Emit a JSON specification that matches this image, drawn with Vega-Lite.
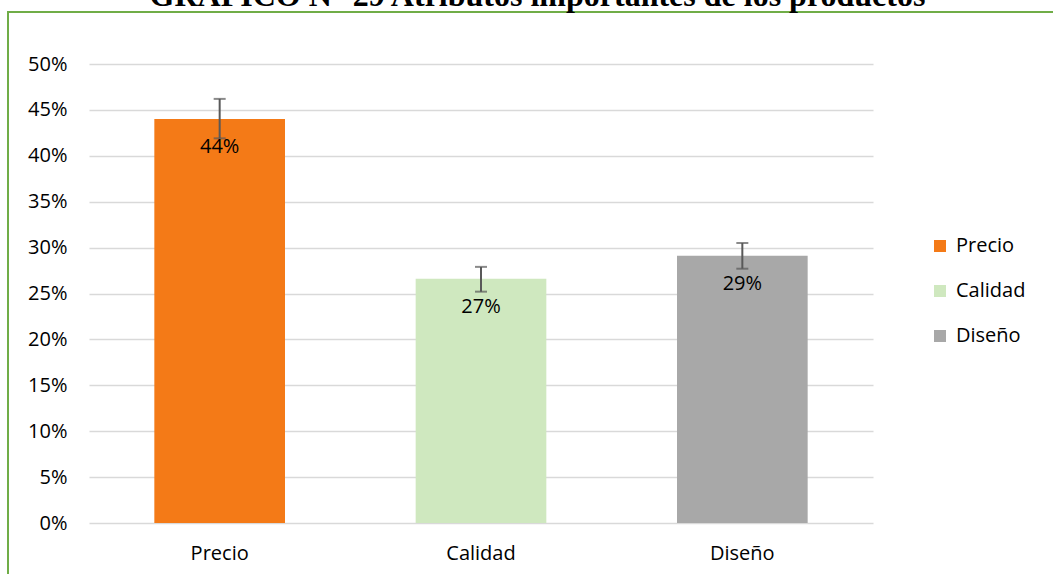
{
  "$schema": "https://vega.github.io/schema/vega-lite/v6.json",
  "autosize": {"type": "none"},
  "padding": {"left": 8, "top": 12, "right": 0, "bottom": 0},
  "width": 1050,
  "height": 570,
  "background": "white",
  "data": {
    "values": [
      {"cat": "Precio", "value": 0.44, "lo": 0.419, "hi": 0.462},
      {"cat": "Calidad", "value": 0.266, "lo": 0.252, "hi": 0.279},
      {"cat": "Diseño", "value": 0.291, "lo": 0.277, "hi": 0.305}
    ]
  },
  "layer": [
    {
      "mark": {"type": "bar"},
      "encoding": {
        "x": {
          "field": "cat",
          "type": "nominal",
          "sort": ["Precio", "Calidad", "Diseño"],
          "scale": {"range": [81, 865], "paddingInner": 0.5, "paddingOuter": 0.25},
          "axis": {
            "title": null,
            "orient": "bottom",
            "domain": false,
            "ticks": false,
            "tickSize": 0,
            "labelPadding": -29,
            "labelBaseline": "middle",
            "labelAngle": 0,
            "labelFont": "Open Sans",
            "labelFontSize": 20,
            "labelColor": "#000000"
          }
        },
        "y": {
          "field": "value",
          "type": "quantitative",
          "scale": {"domain": [0, 0.5], "range": [511, 52], "nice": false},
          "axis": {
            "title": null,
            "values": [0, 0.05, 0.1, 0.15, 0.2, 0.25, 0.3, 0.35, 0.4, 0.45, 0.5],
            "format": ".0%",
            "domain": false,
            "ticks": false,
            "tickSize": 0,
            "labelPadding": -59,
            "labelFont": "Open Sans",
            "labelFontSize": 20,
            "labelColor": "#000000",
            "grid": true,
            "gridColor": "#d9d9d9",
            "gridWidth": 1.5
          }
        },
        "color": {
          "field": "cat",
          "type": "nominal",
          "sort": ["Precio", "Calidad", "Diseño"],
          "scale": {"domain": ["Precio", "Calidad", "Diseño"], "range": ["#f47a17", "#cfe8bf", "#a8a8a8"]},
          "legend": {
            "title": null,
            "orient": "none",
            "legendX": 922,
            "legendY": 224,
            "padding": 0,
            "symbolType": "square",
            "symbolSize": 144,
            "symbolStrokeWidth": 0,
            "labelFont": "Open Sans",
            "labelFontSize": 20,
            "labelColor": "#000000",
            "labelOffset": 6,
            "rowPadding": 25
          }
        }
      }
    },
    {
      "mark": {"type": "rule", "color": "#595959", "strokeWidth": 2},
      "encoding": {
        "x": {
          "field": "cat",
          "type": "nominal",
          "sort": ["Precio", "Calidad", "Diseño"],
          "axis": {
            "orient": "top",
            "title": "GRAFICO N° 29 Atributos importantes de los productos",
            "titleFont": "Liberation Serif",
            "titleFontSize": 32,
            "titleFontWeight": "bold",
            "titleColor": "#000000",
            "titleX": 529,
            "titleY": -7,
            "titleAlign": "center",
            "titleBaseline": "alphabetic",
            "titleAngle": 0,
            "labels": false,
            "ticks": false,
            "domain": false,
            "grid": false
          }
        },
        "y": {"field": "lo", "type": "quantitative"},
        "y2": {"field": "hi"}
      }
    },
    {
      "mark": {"type": "tick", "color": "#595959", "thickness": 2, "size": 12, "orient": "horizontal"},
      "encoding": {
        "x": {"field": "cat", "type": "nominal", "sort": ["Precio", "Calidad", "Diseño"], "axis": null},
        "y": {"field": "hi", "type": "quantitative"}
      }
    },
    {
      "mark": {"type": "tick", "color": "#595959", "thickness": 2, "size": 12, "orient": "horizontal"},
      "encoding": {
        "x": {"field": "cat", "type": "nominal", "sort": ["Precio", "Calidad", "Diseño"], "axis": null},
        "y": {"field": "lo", "type": "quantitative"}
      }
    },
    {
      "mark": {"type": "text", "font": "Open Sans", "fontSize": 20, "color": "#000000", "baseline": "middle", "dy": 28},
      "encoding": {
        "x": {"field": "cat", "type": "nominal", "sort": ["Precio", "Calidad", "Diseño"], "axis": null},
        "y": {"field": "value", "type": "quantitative"},
        "text": {"field": "value", "type": "quantitative", "format": ".0%"}
      }
    }
  ],
  "resolve": {"axis": {"x": "independent"}},
  "config": {
    "view": {"stroke": "#70ad47", "strokeWidth": 2}
  }
}
